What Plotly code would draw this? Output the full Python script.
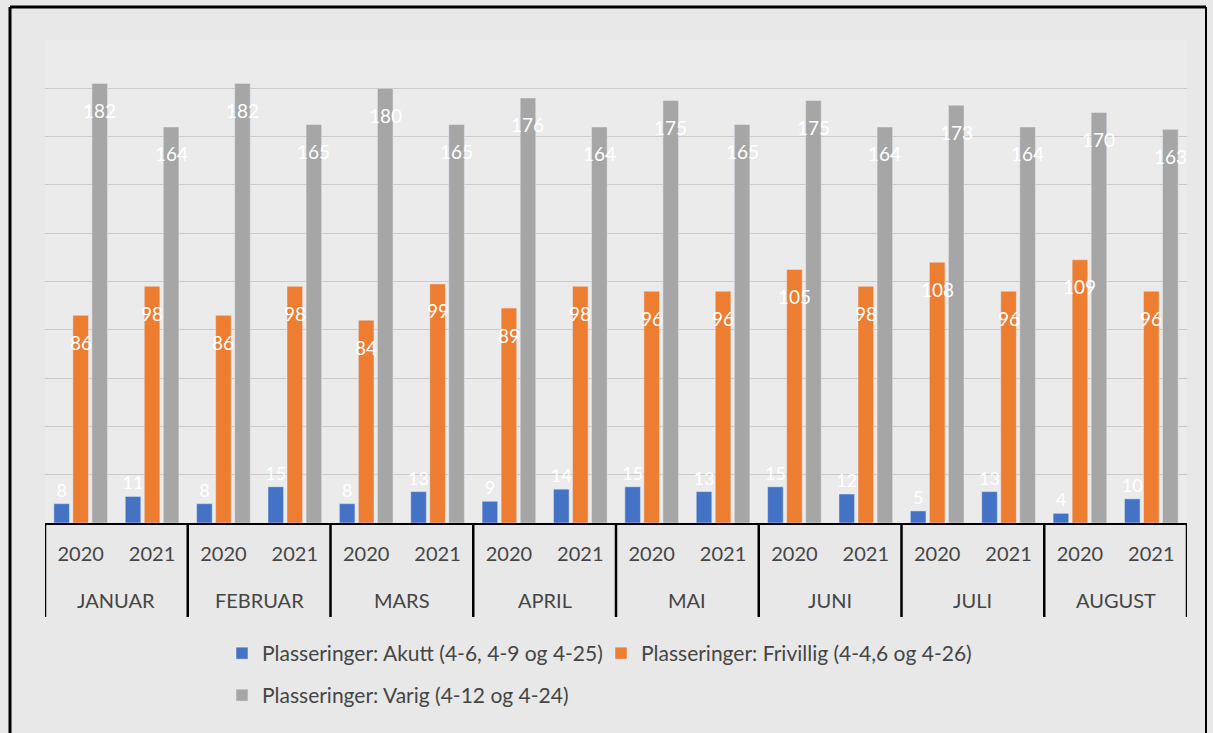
import plotly.graph_objects as go

months = ["JANUAR", "FEBRUAR", "MARS", "APRIL", "MAI", "JUNI", "JULI", "AUGUST"]
years = ["2020", "2021"]

akutt = [8, 11, 8, 15, 8, 13, 9, 14, 15, 13, 15, 12, 5, 13, 4, 10]
frivillig = [86, 98, 86, 98, 84, 99, 89, 98, 96, 96, 105, 98, 108, 96, 109, 96]
varig = [182, 164, 182, 165, 180, 165, 176, 164, 175, 165, 175, 164, 173, 164, 170, 163]

names = [
    "Plasseringer: Akutt (4-6, 4-9 og 4-25)",
    "Plasseringer: Frivillig (4-4,6 og 4-26)",
    "Plasseringer: Varig (4-12 og 4-24)",
]
colors = ["#4472C4", "#ED7D31", "#A6A6A6"]

cats = [f"{m} {y}" for m in months for y in years]
year_ticks = [y for _ in months for y in years]

FONT = "Lato"
TXT = "#454545"

L, R, T, B = 45, 26, 40, 210
W, H = 1213, 733
pw, ph = W - L - R, H - T - B
BARGAP, GROUPGAP = 0.2, 0.18


def px(x):
    return (x - L) / pw


def py(y):
    return (H - B - y) / ph


series = [akutt, frivillig, varig]
fig = go.Figure()
for i, (vals, name, col) in enumerate(zip(series, names, colors)):
    fig.add_trace(go.Bar(
        x=cats, y=vals, name=name, marker_color=col,
        text=[str(v) for v in vals] if i == 0 else None,
        textposition="outside", textangle=0, constraintext="none",
        textfont=dict(color="white", size=18, family=FONT),
        cliponaxis=False,
        legend="legend" if i < 2 else "legend2",
    ))

# value labels for the tall series, drawn on top of all bars
slot = pw / len(cats) * (1 - BARGAP) / 3
for i in (1, 2):
    for c, v in zip(cats, series[i]):
        fig.add_annotation(x=c, y=v, xref="x", yref="y", text=str(v), showarrow=False,
                           xshift=(i - 1) * slot, yshift=-27, yanchor="middle",
                           font=dict(color="white", size=19, family=FONT))

fig.update_layout(
    width=W, height=H,
    margin=dict(l=L, r=R, t=T, b=B),
    paper_bgcolor="#e8e8e8", plot_bgcolor="#ebebeb",
    barmode="group", bargap=BARGAP, bargroupgap=GROUPGAP,
    font=dict(family=FONT, color=TXT, size=20),
    xaxis=dict(
        type="category", showline=True, linecolor="black", linewidth=2,
        ticks="", tickvals=cats, ticktext=year_ticks, ticklabelstandoff=12,
        tickfont=dict(size=20, color=TXT, family=FONT),
        range=[-0.5, len(cats) - 0.5],
    ),
    yaxis=dict(range=[0, 200], dtick=20, showticklabels=False,
               showgrid=True, gridcolor="#cbcbcb", gridwidth=1, zeroline=False),
    legend=dict(orientation="h", x=px(222), y=py(633), xanchor="left", yanchor="top",
                font=dict(size=21, color=TXT, family=FONT),
                bgcolor="rgba(0,0,0,0)", entrywidth=334),
    legend2=dict(orientation="h", x=px(222), y=py(675), xanchor="left", yanchor="top",
                 font=dict(size=21, color=TXT, family=FONT),
                 bgcolor="rgba(0,0,0,0)"),
    showlegend=True,
)

# month labels and table dividers under the category axis
for j, m in enumerate(months):
    fig.add_annotation(x=2 * j + 0.5, xref="x", y=py(600), yref="paper", yanchor="middle",
                       text=m, showarrow=False, font=dict(size=20, color=TXT, family=FONT))
for j in range(len(months) + 1):
    fig.add_shape(type="line", xref="x", yref="paper",
                  x0=2 * j - 0.5, x1=2 * j - 0.5, y0=py(523), y1=py(617),
                  line=dict(color="black", width=2.5))

# frame
fig.add_shape(type="line", xref="paper", yref="paper",
              x0=px(10), x1=px(10), y0=py(7), y1=py(740), line=dict(color="black", width=3))
fig.add_shape(type="line", xref="paper", yref="paper",
              x0=px(10), x1=px(1206), y0=py(7), y1=py(7), line=dict(color="black", width=3))
fig.add_shape(type="line", xref="paper", yref="paper",
              x0=px(1206), x1=px(1206), y0=py(7), y1=py(740), line=dict(color="black", width=2))

fig.write_html("out.html")
